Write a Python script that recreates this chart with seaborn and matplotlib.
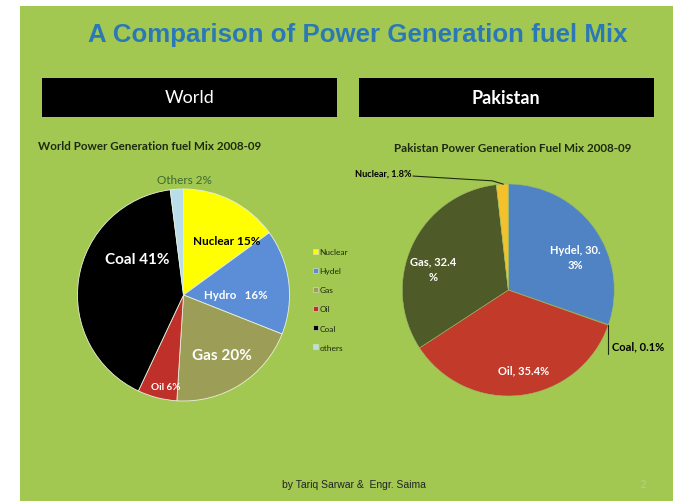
import matplotlib
matplotlib.use("Agg")
import matplotlib.pyplot as plt
from matplotlib.patches import Rectangle, Patch
import numpy as np
import seaborn as sns

# ---------------- data ----------------
world_categories = ["Nuclear", "Hydel", "Gas", "Oil", "Coal", "others"]
world_values = [15, 16, 20, 6, 41, 2]
world_slice_labels = ["Nuclear 15%", "Hydro   16%", "Gas 20%", "Oil 6%", "Coal 41%", "Others 2%"]

pak_categories = ["Hydel", "Coal", "Oil", "Gas", "Nuclear"]
pak_values = [30.3, 0.1, 35.4, 32.4, 1.8]
pak_slice_labels = ["Hydel, 30.\n3%", "Coal, 0.1%", "Oil, 35.4%", "Gas, 32.4\n%", "Nuclear, 1.8%"]

main_title = "A Comparison of Power Generation fuel Mix"
world_header = "World"
pak_header = "Pakistan"
world_title = "World Power Generation fuel Mix 2008-09"
pak_title = "Pakistan Power Generation Fuel Mix 2008-09"
footer = "by Tariq Sarwar &  Engr. Saima"
page_no = "2"

# ---------------- style ----------------
sns.set_theme(style="white")
plt.rcParams["font.family"] = ["Lato", "DejaVu Sans"]

GREEN = "#A2C852"
world_colors = sns.color_palette(["#FFFF00", "#5B8ED6", "#9C9E58", "#C0302A", "#000000", "#B9DDEA"])
pak_colors = sns.color_palette(["#4F83C4", "#000000", "#C23A2A", "#4E5A27", "#F3C12C"])

W, H = 675, 502
fig = plt.figure(figsize=(W / 100, H / 100), dpi=100)
fig.patch.set_facecolor("white")


def fx(x):
    return x / W


def fy(y):
    return 1 - y / H


# slide background
fig.add_artist(Rectangle((fx(20), 0), fx(673) - fx(20), fy(7), transform=fig.transFigure,
                         facecolor=GREEN, edgecolor="none", zorder=-5))

# main title
fig.text(fx(358), fy(42), main_title, ha="center", va="baseline", fontsize=18.6,
         fontweight="bold", color="#2A79B6", family=["Liberation Sans", "DejaVu Sans"])

# header boxes
for (x0, x1, txt, wt) in [(42.5, 336.5, world_header, "normal"), (358.5, 653.5, pak_header, "bold")]:
    fig.add_artist(Rectangle((fx(x0), fy(118)), fx(x1) - fx(x0), fy(79) - fy(118),
                             transform=fig.transFigure, facecolor="black", edgecolor="none", zorder=1))
    fig.text(fx((x0 + x1) / 2), fy(98), txt, ha="center", va="center", fontsize=13,
             color="white", fontweight=wt, zorder=2)

# chart titles
fig.text(fx(38), fy(147), world_title, ha="left", va="center", fontsize=8.4,
         fontweight="bold", color="#1e2a10")
fig.text(fx(513), fy(149), pak_title, ha="center", va="center", fontsize=8.4,
         fontweight="bold", color="#1e2a10")


def pie_axes(cx, cy, r):
    ax = fig.add_axes([fx(cx - r), fy(cy + r), 2 * r / W, 2 * r / H])
    ax.set_facecolor("none")
    return ax


# ---------------- World pie ----------------
axw = pie_axes(183.5, 296, 106)
wedges_w, _ = axw.pie(world_values, colors=world_colors, startangle=90, counterclock=False,
                      radius=1, wedgeprops=dict(edgecolor="#e8f0dc", linewidth=0.6))
axw.set_xlim(-1, 1)
axw.set_ylim(-1, 1)
axw.set_aspect("equal")
axw.axis("off")

world_label_pos = [(0.41, 0.51), (0.49, 0.0), (0.36, -0.57), (-0.17, -0.86), (-0.44, 0.34), (0.01, 1.09)]
world_label_style = [
    dict(fontsize=8.5, color="black"),
    dict(fontsize=8.3, color="white"),
    dict(fontsize=11, color="white"),
    dict(fontsize=7.2, color="white"),
    dict(fontsize=11, color="white"),
    dict(fontsize=8.5, color="#3B6A2E", fontweight="normal"),
]
for txt, (x, y), st in zip(world_slice_labels, world_label_pos, world_label_style):
    kw = dict(fontweight="bold")
    kw.update(st)
    axw.text(x, y, txt, ha="center", va="center", **kw)

handles = [Patch(facecolor=c, edgecolor="#d9e6c8", linewidth=0.4) for c in world_colors]
fig.legend(handles, world_categories, loc="upper left", bbox_to_anchor=(fx(309), fy(245)),
           frameon=False, fontsize=6, handlelength=0.55, handleheight=0.55, handletextpad=0.2,
           labelspacing=1.45, borderpad=0, labelcolor="#1e2a10")

# ---------------- Pakistan pie ----------------
axp = pie_axes(508.3, 291, 106)
wedges_p, _ = axp.pie(pak_values, colors=pak_colors, startangle=90, counterclock=False,
                      radius=1, wedgeprops=dict(edgecolor="#9dbb6a", linewidth=0.4))
axp.set_xlim(-1, 1)
axp.set_ylim(-1, 1)
axp.set_aspect("equal")
axp.axis("off")


def wedge_point(w, r=1.0):
    ang = np.deg2rad((w.theta1 + w.theta2) / 2)
    return r * np.cos(ang), r * np.sin(ang)


# inside labels
pak_label_pos = {0: (0.63, 0.31), 2: (0.14, -0.75), 3: (-0.71, 0.20)}
for i, (x, y) in pak_label_pos.items():
    axp.text(x, y, pak_slice_labels[i], ha="center", va="center", fontsize=8,
             fontweight="bold", color="white", linespacing=1.5)

# Coal leader
cx0, cy0 = wedge_point(wedges_p[1])
axp.plot([cx0, cx0], [cy0, -0.60], color="#1e2a10", lw=0.8, clip_on=False)
axp.text(cx0 + 0.03, -0.53, pak_slice_labels[1], ha="left", va="center", fontsize=8,
         fontweight="bold", color="black")

# Nuclear leader
nx0, ny0 = wedge_point(wedges_p[4])
axp.plot([-0.90, -0.15, nx0 + 0.01], [1.075, 1.03, ny0], color="#1e2a10", lw=0.8, clip_on=False)
axp.text(-0.91, 1.10, pak_slice_labels[4], ha="right", va="center", fontsize=6.6,
         fontweight="bold", color="black")

# footer
fig.text(fx(354), fy(485), footer, ha="center", va="center", fontsize=7.5,
         color="#222222", family=["Liberation Sans", "DejaVu Sans"])
fig.text(fx(643), fy(485), page_no, ha="center", va="center", fontsize=7,
         color="#B8D486", family=["Liberation Sans", "DejaVu Sans"])

fig.savefig("out.png", dpi=100)
